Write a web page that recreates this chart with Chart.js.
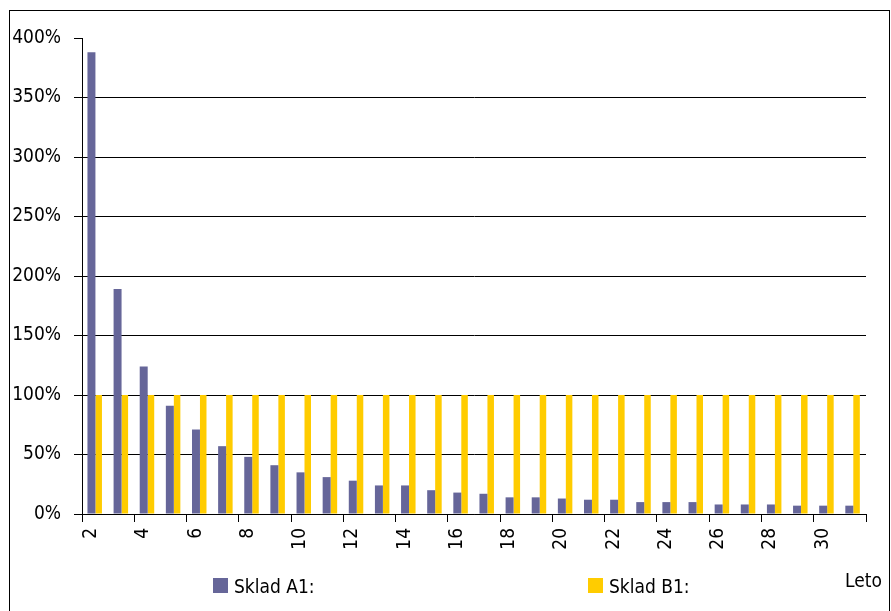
<!DOCTYPE html>
<html>
<head>
<meta charset="utf-8">
<title>Sklad A1 / Sklad B1</title>
<script src="https://cdn.jsdelivr.net/npm/chart.js@4.4.1/dist/chart.umd.min.js"></script>
<style>
  html, body { margin: 0; padding: 0; background: #fff; width: 891px; height: 611px; overflow: hidden; }
  #frame { position: absolute; left: 9px; top: 10px; width: 879px; height: 700px; border: 1px solid #000; }
  #plot { position: absolute; left: 0; top: 0; }
  .txt { position: absolute; font: 19px 'DejaVu Sans Condensed', 'DejaVu Sans', sans-serif; color: #000; white-space: nowrap; line-height: 19px; }
  .swatch { position: absolute; width: 15px; height: 15px; }
</style>
</head>
<body>
<div id="frame"></div>
<canvas id="plot" width="891" height="611"></canvas>
<div id="keys"></div>
<script>
// Years on the horizontal axis
const years = ['2', '3', '4', '5', '6', '7', '8', '9', '10', '11', '12', '13', '14', '15', '16',
               '17', '18', '19', '20', '21', '22', '23', '24', '25', '26', '27', '28', '29', '30', '31'];

// Values per year, in percent
const skladA1 = [388, 189, 124, 91, 71, 57, 48, 41, 35, 31, 28, 24, 24, 20, 18,
                 17, 14, 14, 13, 12, 12, 10, 10, 10, 8, 8, 8, 7, 7, 7];
const skladB1 = [100, 100, 100, 100, 100, 100, 100, 100, 100, 100, 100, 100, 100, 100, 100,
                 100, 100, 100, 100, 100, 100, 100, 100, 100, 100, 100, 100, 100, 100, 100];

// Percent ticks on the vertical axis
const percentTicks = [0, 50, 100, 150, 200, 250, 300, 350, 400];

const FONT = "'DejaVu Sans Condensed', 'DejaVu Sans', sans-serif";
Chart.defaults.font.family = FONT;
Chart.defaults.font.size = 19;
Chart.defaults.color = '#000';

const chart = new Chart(document.getElementById('plot'), {
  type: 'bar',
  data: {
    labels: years,
    datasets: [
      { label: 'Sklad A1:', data: skladA1, backgroundColor: '#666699', borderWidth: 0,
        categoryPercentage: 0.555, barPercentage: 1.1 },
      { label: 'Sklad B1:', data: skladB1, backgroundColor: '#FFCC00', borderWidth: 0,
        categoryPercentage: 0.555, barPercentage: 0.9 }
    ]
  },
  options: {
    responsive: false,
    animation: false,
    devicePixelRatio: 1,
    layout: { padding: { top: 38, right: 25, bottom: 0, left: 0 } },
    plugins: { legend: { display: false }, tooltip: { enabled: false } },
    scales: {
      x: {
        offset: true,
        grid: {
          offset: true,
          drawOnChartArea: false,
          tickLength: 8,
          // a tick mark every second year, plus the closing one at the right end
          tickColor: ctx => (ctx.index === undefined || ctx.index % 2 === 0) ? '#000' : 'rgba(0,0,0,0)'
        },
        border: { color: '#000', width: 1 },
        ticks: {
          autoSkip: false,
          minRotation: 90,
          maxRotation: 90,
          padding: 6,
          labelOffset: -4,
          callback: (v, i) => (i % 2 === 0 ? years[i] : '')
        },
        afterFit: s => { s.height = 97; }
      },
      y: {
        min: 0,
        max: 400,
        grid: {
          color: ctx => (ctx.tick && ctx.tick.value === 400) ? 'rgba(0,0,0,0)' : '#000',
          tickColor: '#000',
          tickLength: 8,
          lineWidth: 1
        },
        border: { color: '#000', width: 1 },
        ticks: { padding: 13, callback: v => v + '%' },
        afterBuildTicks: s => { s.ticks = percentTicks.map(v => ({ value: v })); },
        afterFit: s => { s.width = 82; }
      }
    }
  }
});

// Series keys along the bottom and the axis name at the lower right
const keys = document.getElementById('keys');
const keyLeft = [213, 588];
chart.data.datasets.forEach((ds, i) => {
  const sw = document.createElement('div');
  sw.className = 'swatch';
  sw.style.left = keyLeft[i] + 'px';
  sw.style.top = '578px';
  sw.style.background = ds.backgroundColor;
  keys.appendChild(sw);
  const t = document.createElement('div');
  t.className = 'txt';
  t.style.left = (keyLeft[i] + 21) + 'px';
  t.style.top = '577px';
  t.textContent = ds.label;
  keys.appendChild(t);
});
const axisName = document.createElement('div');
axisName.className = 'txt';
axisName.style.left = '845px';
axisName.style.top = '571px';
axisName.textContent = 'Leto';
keys.appendChild(axisName);
</script>
</body>
</html>
